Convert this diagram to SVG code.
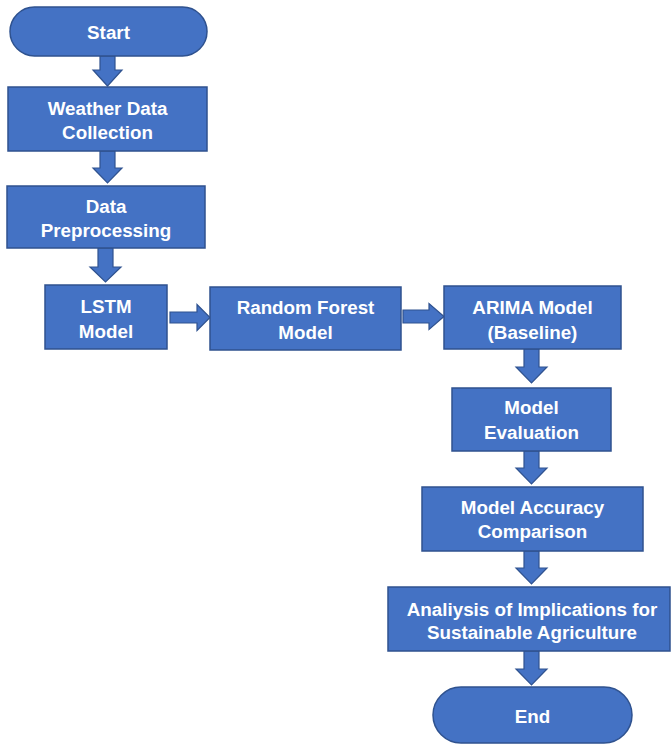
<svg xmlns="http://www.w3.org/2000/svg" width="672" height="744" viewBox="0 0 672 744">
<style>
.n{fill:#4472C4;stroke:#2F528F;stroke-width:1.5}
.a{fill:#4472C4;stroke:#2F528F;stroke-width:1.2;stroke-linejoin:miter}
text{font-family:"Liberation Sans",Arial,sans-serif;font-weight:bold;font-size:18.8px;fill:#FFFFFF;text-anchor:middle}
</style>
<rect width="672" height="744" fill="#FFFFFF"/>
<g id="connectors">
<polygon class="a" points="100,56 115,56 115,70 122,70 107.5,86 93,70 100,70"/>
<polygon class="a" points="100,151 115,151 115,168 122,168 107.5,183 93,168 100,168"/>
<polygon class="a" points="98,248 113,248 113,267 121,267 105.5,282 90,267 98,267"/>
<polygon class="a" points="170,312 197,312 197,304.5 210,317.5 197,330.5 197,323 170,323"/>
<polygon class="a" points="403,310 429,310 429,303.5 444,316.5 429,329.5 429,323 403,323"/>
<polygon class="a" points="524,349 539,349 539,367 547,367 531.5,383 516,367 524,367"/>
<polygon class="a" points="524,451 539,451 539,468 547,468 531.5,484 516,468 524,468"/>
<polygon class="a" points="524,551 539,551 539,568 547,568 531.5,584 516,568 524,568"/>
<polygon class="a" points="524,651 539,651 539,669 547,669 531.5,685 516,669 524,669"/>
</g>
<g id="start">
<rect class="n" x="10" y="7" width="197" height="49" rx="24.5" ry="24.5"/>
<text x="108.5" y="39">Start</text>
</g>
<g id="weather">
<rect class="n" x="8" y="87" width="199" height="64"/>
<text x="107.5" y="114.5">Weather Data</text>
<text x="107.5" y="138.5">Collection</text>
</g>
<g id="preprocessing">
<rect class="n" x="7" y="186" width="198" height="62"/>
<text x="106" y="212.5">Data</text>
<text x="106" y="236.5">Preprocessing</text>
</g>
<g id="lstm">
<rect class="n" x="45" y="285" width="122" height="64"/>
<text x="106" y="312.5">LSTM</text>
<text x="106" y="337.5">Model</text>
</g>
<g id="randomforest">
<rect class="n" x="210" y="287" width="191" height="63"/>
<text x="305.5" y="313.5">Random Forest</text>
<text x="305.5" y="338.5">Model</text>
</g>
<g id="arima">
<rect class="n" x="444" y="286" width="177" height="63"/>
<text x="532.5" y="313.5">ARIMA Model</text>
<text x="532.5" y="338.5">(Baseline)</text>
</g>
<g id="evaluation">
<rect class="n" x="452" y="388" width="159" height="63"/>
<text x="531.5" y="413.5">Model</text>
<text x="531.5" y="438.5">Evaluation</text>
</g>
<g id="comparison">
<rect class="n" x="422" y="487" width="221" height="64"/>
<text x="532.5" y="513.5">Model Accuracy</text>
<text x="532.5" y="537.5">Comparison</text>
</g>
<g id="analysis">
<rect class="n" x="388" y="587" width="282" height="64"/>
<text x="532" y="615.5">Analiysis of Implications for</text>
<text x="532" y="638.5">Sustainable Agriculture</text>
</g>
<g id="end">
<rect class="n" x="433" y="687" width="199" height="56" rx="28" ry="28"/>
<text x="532.5" y="722.5">End</text>
</g>
</svg>
